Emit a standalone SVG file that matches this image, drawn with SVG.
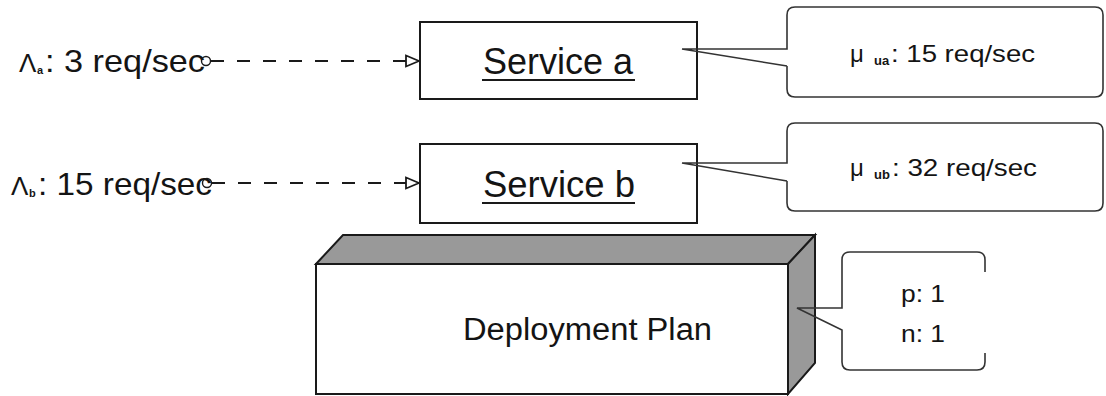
<svg xmlns="http://www.w3.org/2000/svg" width="1106" height="396" viewBox="0 0 1106 396">
  <defs>
    <style>
      .txt { font-family: "Liberation Sans", Arial, sans-serif; fill: #141414; }
      .sub { font-size: 11px; font-weight: bold; }
      .box { fill: #ffffff; stroke: #1a1a1a; stroke-width: 2; }
      .face { fill: #999999; stroke: #1a1a1a; stroke-width: 2; stroke-linejoin: miter; }
      .note-fill { fill: #ffffff; stroke: none; }
      .note-line { fill: none; stroke: #333333; stroke-width: 1.6; stroke-linejoin: miter; }
      .flow { fill: none; stroke: #1a1a1a; stroke-width: 2; stroke-dasharray: 13 13; }
      .src { fill: none; stroke: #1a1a1a; stroke-width: 1.4; }
      .uline { stroke: #1a1a1a; stroke-width: 2; }
    </style>
    <marker id="openArrow" viewBox="0 0 16 14" refX="15" refY="7" markerWidth="16" markerHeight="14" markerUnits="userSpaceOnUse" orient="auto">
      <path d="M2,1.5 L15,7 L2,12.5 Z" fill="#ffffff" stroke="#1a1a1a" stroke-width="1.8"/>
    </marker>
  </defs>

  <!-- arrival-rate labels -->
  <g id="lambda-a">
    <text class="txt" y="72" font-size="32"><tspan x="19" font-size="26">Λ</tspan><tspan class="sub" x="37" dy="2">a</tspan><tspan x="45" dy="-2" textLength="160" lengthAdjust="spacingAndGlyphs">: 3 req/sec</tspan></text>
  </g>
  <g id="lambda-b">
    <text class="txt" y="195" font-size="32"><tspan x="11" font-size="26">Λ</tspan><tspan class="sub" x="29" dy="2">b</tspan><tspan x="38" dy="-2" textLength="174" lengthAdjust="spacingAndGlyphs">: 15 req/sec</tspan></text>
  </g>

  <!-- services -->
  <g id="service-a">
    <rect class="box" x="420" y="22" width="277" height="77"/>
    <text class="txt" x="483" y="74" font-size="37" textLength="150" lengthAdjust="spacingAndGlyphs">Service a</text>
    <line class="uline" x1="482" y1="80" x2="635" y2="80"/>
  </g>
  <g id="service-b">
    <rect class="box" x="420" y="144" width="277" height="79"/>
    <text class="txt" x="483" y="197" font-size="37" textLength="152" lengthAdjust="spacingAndGlyphs">Service b</text>
    <line class="uline" x1="482" y1="203" x2="635" y2="203"/>
  </g>

  <!-- deployment plan (3D block) -->
  <g id="deployment-plan">
    <polygon class="face" points="316,264 343,235 815,235 788,264"/>
    <polygon class="face" points="788,264 815,235 815,363 788,394"/>
    <rect class="box" x="316" y="264" width="472" height="130"/>
    <text class="txt" x="463" y="340" font-size="31" textLength="249" lengthAdjust="spacingAndGlyphs">Deployment Plan</text>
  </g>

  <!-- service-rate notes -->
  <g id="note-a">
    <path class="note-fill" d="M795,7 H1095 Q1103,7 1103,15 V89 Q1103,97 1095,97 H795 Q787,97 787,89 V15 Q787,7 795,7 Z"/>
    <path class="note-line" d="M787,66 V89 Q787,97 795,97 H1095 Q1103,97 1103,89 V15 Q1103,7 1095,7 H795 Q787,7 787,15 V49 H682 L787,66"/>
    <text class="txt" y="62" font-size="24"><tspan x="850">μ</tspan><tspan x="874" dy="3" font-size="13" font-weight="bold">ua</tspan><tspan x="891" dy="-3" textLength="144" lengthAdjust="spacingAndGlyphs">: 15 req/sec</tspan></text>
  </g>
  <g id="note-b">
    <path class="note-fill" d="M795,123 H1095 Q1103,123 1103,131 V203 Q1103,211 1095,211 H795 Q787,211 787,203 V131 Q787,123 795,123 Z"/>
    <path class="note-line" d="M787,181 V203 Q787,211 795,211 H1095 Q1103,211 1103,203 V131 Q1103,123 1095,123 H795 Q787,123 787,131 V163 H682 L787,181"/>
    <text class="txt" y="176" font-size="24"><tspan x="850">μ</tspan><tspan x="874" dy="3" font-size="13" font-weight="bold">ub</tspan><tspan x="892" dy="-3" textLength="145" lengthAdjust="spacingAndGlyphs">: 32 req/sec</tspan></text>
  </g>

  <!-- deployment parameters note -->
  <g id="note-plan">
    <path class="note-fill" d="M850,252 H977 Q985,252 985,260 V362 Q985,370 977,370 H850 Q842,370 842,362 V260 Q842,252 850,252 Z"/>
    <path class="note-line" d="M985,272 V260 Q985,252 977,252 H850 Q842,252 842,260 V308 L797,308 L842,330 V362 Q842,370 850,370 H977 Q985,370 985,362 V353"/>
    <text class="txt" x="901" y="302" font-size="24" textLength="44" lengthAdjust="spacingAndGlyphs">p: 1</text>
    <text class="txt" x="901" y="342" font-size="24" textLength="44" lengthAdjust="spacingAndGlyphs">n: 1</text>
  </g>

  <!-- request flows -->
  <g id="connectors">
    <circle class="src" cx="206" cy="61" r="4.5"/>
    <line class="flow" x1="211" y1="61" x2="419" y2="61" marker-end="url(#openArrow)"/>
    <circle class="src" cx="207" cy="183" r="4.5"/>
    <line class="flow" x1="212" y1="183" x2="419" y2="183" marker-end="url(#openArrow)"/>
  </g>
</svg>
